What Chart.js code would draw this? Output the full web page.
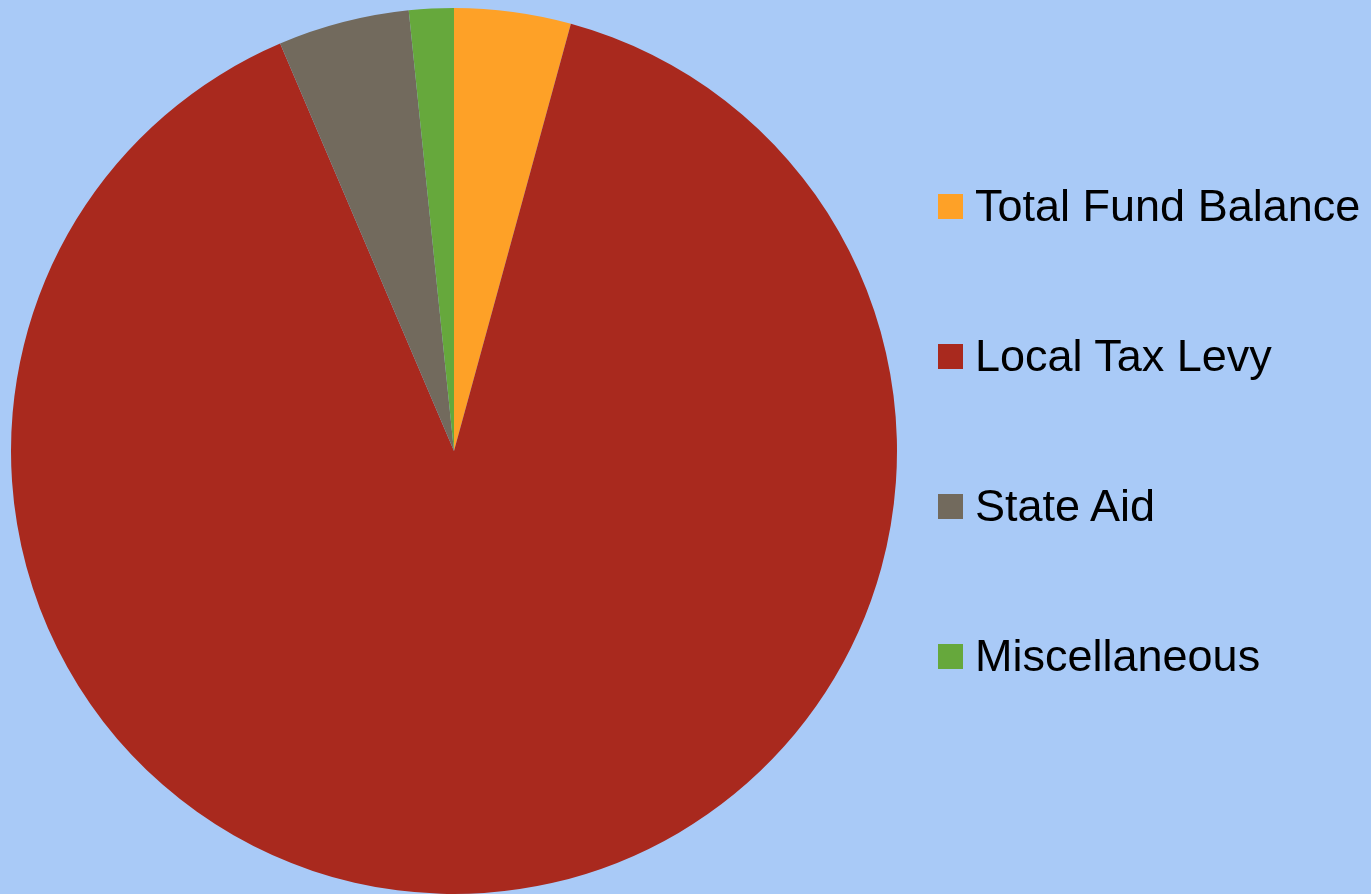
<!DOCTYPE html>
<html>
<head>
<meta charset="utf-8">
<script src="https://cdn.jsdelivr.net/npm/chart.js@4/dist/chart.umd.min.js"></script>
<style>
    html, body { margin: 0; padding: 0; background: #a9caf7; overflow: hidden; }
    #wrap { position: relative; width: 1371px; height: 894px; }
    #chart { position: absolute; left: 0; top: 0; }
    .item { position: absolute; left: 938px; height: 50px; display: flex; align-items: center; }
    .box { width: 25px; height: 25px; margin-right: 12px; }
    .label { font-family: "Liberation Sans", Arial, sans-serif; font-size: 45px; line-height: 50px; color: #000; white-space: nowrap; }
</style>
</head>
<body>
<div id="wrap">
    <canvas id="chart" width="1371" height="894"></canvas>
    <div id="legend"></div>
</div>
<script>
// Revenue sources (share of total, %)
const categories = ['Total Fund Balance', 'Local Tax Levy', 'State Aid', 'Miscellaneous'];
const shares = [4.25, 89.33, 4.79, 1.63];
const colors = ['#fea127', '#a9291e', '#726a5d', '#66a83c'];

new Chart(document.getElementById('chart'), {
    type: 'pie',
    data: {
        labels: categories,
        datasets: [{
            data: shares,
            backgroundColor: colors,
            borderWidth: 0
        }]
    },
    options: {
        responsive: false,
        animation: false,
        layout: { padding: { left: 11, right: 474, top: 8, bottom: 0 } },
        plugins: {
            legend: { display: false },
            tooltip: { enabled: false }
        }
    }
});

// legend on the right, one row per category
const legend = document.getElementById('legend');
categories.forEach((name, i) => {
    const row = document.createElement('div');
    row.className = 'item';
    row.style.top = (181 + i * 150) + 'px';
    row.innerHTML = `<div class="box" style="background:${colors[i]}"></div><span class="label">${name}</span>`;
    legend.appendChild(row);
});
</script>
</body>
</html>
